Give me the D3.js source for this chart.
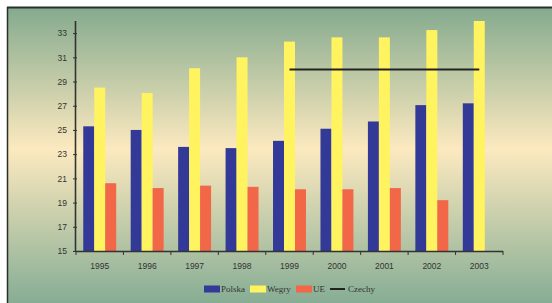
<!DOCTYPE html>
<html>
<head>
<meta charset="utf-8">
<script src="https://cdn.jsdelivr.net/npm/d3@7"></script>
<style>
  html, body { margin: 0; padding: 0; background: #fff; }
  svg { display: block; font-family: "Liberation Serif", "DejaVu Serif", serif; }
</style>
</head>
<body>
<svg id="chart" width="552" height="303"></svg>
<script>
const years = ["1995", "1996", "1997", "1998", "1999", "2000", "2001", "2002", "2003"]
const polska = [25.3, 25.0, 23.6, 23.5, 24.1, 25.1, 25.7, 27.05, 27.2]
const wegry = [28.5, 28.05, 30.1, 31.0, 32.3, 32.65, 32.65, 33.25, 34.0]
const ue = [20.6, 20.2, 20.4, 20.3, 20.1, 20.1, 20.2, 19.2, null]
const czechy = [null, null, null, null, 30, 30, 30, 30, 30]
const yTicks = [15, 17, 19, 21, 23, 25, 27, 29, 31, 33]

const seriesNames = ["Polska", "Wegry", "UE"]
const colors = { Polska: "#333997", Wegry: "#fff35f", UE: "#f26748" }

const svg = d3.select("#chart")
const W = 552, H = 303

// background gradient
const defs = svg.append("defs")
const grad = defs.append("linearGradient")
  .attr("id", "bg").attr("x1", 0).attr("y1", 0).attr("x2", 0).attr("y2", 1)
grad.append("stop").attr("offset", "0%").attr("stop-color", "#84aa8e")
grad.append("stop").attr("offset", "48%").attr("stop-color", "#fce9bf")
grad.append("stop").attr("offset", "100%").attr("stop-color", "#86ad94")

svg.append("rect").attr("x", 7).attr("y", 7).attr("width", W - 7).attr("height", H - 7)
  .attr("fill", "url(#bg)")
svg.append("line").attr("x1", 7).attr("x2", W).attr("y1", 7.5).attr("y2", 7.5)
  .attr("stroke", "#2a2f2a").attr("stroke-width", 2)
svg.append("line").attr("x1", 7.5).attr("x2", 7.5).attr("y1", 7).attr("y2", H)
  .attr("stroke", "#2a2f2a").attr("stroke-width", 1.5)

const margin = { left: 76, right: 49, top: 21, bottom: 52 }
const x = d3.scaleBand().domain(years).range([margin.left, W - margin.right]).paddingInner(0).paddingOuter(0)
const xs = d3.scaleBand().domain(seriesNames).range([0, x.bandwidth()]).paddingInner(0).paddingOuter(0.66)
const y = d3.scaleLinear().domain([15, 34]).range([251, 21])

// bars
const rows = years.map((yr, i) => ({ year: yr, Polska: polska[i], Wegry: wegry[i], UE: ue[i] }))
svg.append("g").selectAll("g")
  .data(rows)
  .join("g")
    .attr("transform", d => `translate(${x(d.year)},0)`)
  .selectAll("rect")
  .data(d => seriesNames.map(k => ({ key: k, value: d[k] })).filter(d => d.value != null))
  .join("rect")
    .attr("x", d => xs(d.key))
    .attr("width", xs.bandwidth())
    .attr("y", d => y(d.value))
    .attr("height", d => y(15) - y(d.value))
    .attr("fill", d => colors[d.key])

// Czechy line
const line = d3.line()
  .defined(d => d != null)
  .x((d, i) => x(years[i]) + x.bandwidth() / 2)
  .y(d => y(d))
svg.append("path")
  .datum(czechy)
  .attr("d", line)
  .attr("fill", "none")
  .attr("stroke", "#222")
  .attr("stroke-width", 2)

// axes
const yAxis = svg.append("g")
  .attr("transform", `translate(${margin.left},0)`)
  .call(d3.axisLeft(y).tickValues(yTicks).tickSize(3).tickPadding(6))
yAxis.select(".domain").attr("d", `M-0.5,${y(15)}V${y(34)}`).attr("stroke", "#333").attr("stroke-width", 1.6)
yAxis.selectAll(".tick line").attr("stroke", "#333").attr("x2", -3).attr("x1", 1)
yAxis.selectAll("text").attr("font-size", 8.5).attr("fill", "#333")

const xAxis = svg.append("g")
  .attr("transform", `translate(0,${y(15)})`)
  .call(d3.axisBottom(x).tickSize(0).tickPadding(12))
xAxis.select(".domain").attr("d", `M${margin.left},0.5H${W - margin.right}`).attr("stroke", "#333").attr("stroke-width", 1.6)
xAxis.selectAll("text").attr("font-size", 8.5).attr("fill", "#333")
xAxis.append("g").selectAll("line")
  .data(years.map(d => x(d)).concat([x(years[years.length - 1]) + x.bandwidth()]))
  .join("line")
    .attr("x1", d => d).attr("x2", d => d)
    .attr("y1", 0).attr("y2", 4)
    .attr("stroke", "#333")

// legend
const legendItems = [
  { name: "Polska", type: "rect", color: colors.Polska, x: 204 },
  { name: "Wegry", type: "rect", color: colors.Wegry, x: 250 },
  { name: "UE", type: "rect", color: colors.UE, x: 296 },
  { name: "Czechy", type: "line", color: "#222", x: 330 }
]
const lg = svg.append("g").selectAll("g")
  .data(legendItems)
  .join("g")
    .attr("transform", d => `translate(${d.x},289)`)
lg.filter(d => d.type === "rect").append("rect")
  .attr("x", 0).attr("y", -3.5).attr("width", 16).attr("height", 7)
  .attr("fill", d => d.color)
lg.filter(d => d.type === "line").append("line")
  .attr("x1", 0).attr("x2", 15).attr("y1", 0).attr("y2", 0)
  .attr("stroke", d => d.color).attr("stroke-width", 2)
lg.append("text")
  .attr("x", d => d.type === "line" ? 18 : 17)
  .attr("y", 3)
  .attr("font-size", 9)
  .attr("fill", "#333")
  .text(d => d.name)
</script>
</body>
</html>
